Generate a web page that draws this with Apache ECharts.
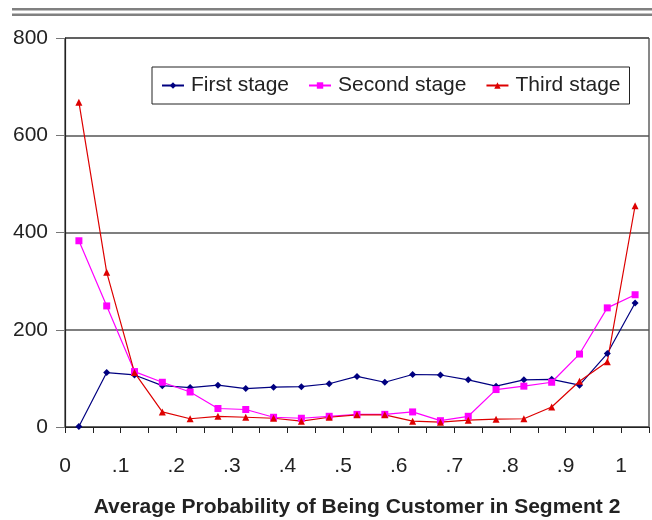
<!DOCTYPE html>
<html>
<head>
<meta charset="utf-8">
<script src="https://cdn.jsdelivr.net/npm/echarts@6/dist/echarts.min.js"></script>
<style>
    html, body { margin: 0; padding: 0; background: #fff; }
    #chart { width: 652px; height: 520px; }
</style>
</head>
<body>
<div id="chart"></div>
<script>
// bin midpoints of average probability
var binCenters = [0.025, 0.075, 0.125, 0.175, 0.225, 0.275, 0.325, 0.375, 0.425, 0.475,
    0.525, 0.575, 0.625, 0.675, 0.725, 0.775, 0.825, 0.875, 0.925, 0.975, 1.025];

var firstStage = [1, 112, 107, 85, 81, 86, 79, 82, 83, 89,
    104, 92, 108, 107, 97, 84, 97, 98, 86, 151, 255];
var secondStage = [383, 249, 114, 92, 72, 38, 36, 20, 18, 22,
    26, 26, 31, 13, 22, 77, 84, 92, 150, 245, 272];
var thirdStage = [668, 318, 112, 31, 17, 22, 20, 18, 12, 20,
    25, 25, 12, 10, 14, 16, 17, 41, 94, 134, 455];

var yTicks = [0, 200, 400, 600, 800];

function pairs(ys) {
    return ys.map(function (y, i) {
        return [binCenters[i], y];
    });
}

var font = 'Liberation Sans, Arial, Helvetica, sans-serif';
var chart = echarts.init(document.getElementById('chart'));

chart.setOption({
    animation: false,
    backgroundColor: '#fff',
    graphic: [
        {type: 'rect', shape: {x: 12, y: 8, width: 640, height: 2.5}, style: {fill: '#808080'}},
        {type: 'rect', shape: {x: 12, y: 13.5, width: 640, height: 2.5}, style: {fill: '#808080'}}
    ],
    grid: {
        left: 65,
        top: 38,
        right: 3,
        bottom: 93,
        show: true,
        borderColor: '#111',
        borderWidth: 1,
        containLabel: false,
        outerBoundsMode: 'none'
    },
    legend: {
        left: 152,
        top: 67,
        padding: [8, 9, 8, 9],
        itemWidth: 22,
        itemHeight: 8,
        itemGap: 19,
        borderColor: '#222',
        borderWidth: 1,
        textStyle: {fontFamily: font, fontSize: 21, color: '#222', padding: [2, 0, 0, 2]},
        data: ['First stage', 'Second stage', 'Third stage']
    },
    xAxis: {
        type: 'value',
        min: 0,
        max: 1.05,
        interval: 0.05,
        name: 'Average Probability of Being Customer in Segment 2',
        nameLocation: 'middle',
        nameGap: 70,
        nameTextStyle: {fontFamily: font, fontSize: 21, fontWeight: 'bold', color: '#222'},
        axisLine: {lineStyle: {color: '#222', width: 1.2}},
        axisTick: {length: 6, lineStyle: {color: '#222'}},
        splitLine: {show: false},
        axisLabel: {
            margin: 29,
            fontFamily: font,
            fontSize: 21,
            color: '#222',
            showMaxLabel: true,
            formatter: function (v) {
                var k = Math.round(v * 100);
                if (k % 10 !== 0) return '';
                if (k === 0) return '0';
                if (k === 100) return '1';
                return '.' + (k / 10);
            }
        }
    },
    yAxis: {
        type: 'value',
        min: yTicks[0],
        max: yTicks[yTicks.length - 1],
        interval: 200,
        axisLine: {show: true, lineStyle: {color: '#222', width: 1.2}},
        axisTick: {show: true, length: 9, lineStyle: {color: '#777'}},
        splitLine: {show: true, lineStyle: {color: '#555', width: 1.5}},
        axisLabel: {margin: 17, fontFamily: font, fontSize: 21, color: '#222'}
    },
    series: [
        {
            name: 'First stage',
            type: 'line',
            data: pairs(firstStage),
            symbol: 'diamond',
            symbolSize: 7,
            itemStyle: {color: '#000080'},
            lineStyle: {color: '#000080', width: 1.2}
        },
        {
            name: 'Second stage',
            type: 'line',
            data: pairs(secondStage),
            symbol: 'rect',
            symbolSize: 7,
            itemStyle: {color: '#ff00ff'},
            lineStyle: {color: '#ff00ff', width: 1.2}
        },
        {
            name: 'Third stage',
            type: 'line',
            data: pairs(thirdStage),
            symbol: 'triangle',
            symbolSize: 7,
            itemStyle: {color: '#dd0000'},
            lineStyle: {color: '#dd0000', width: 1.2}
        }
    ]
});
</script>
</body>
</html>
